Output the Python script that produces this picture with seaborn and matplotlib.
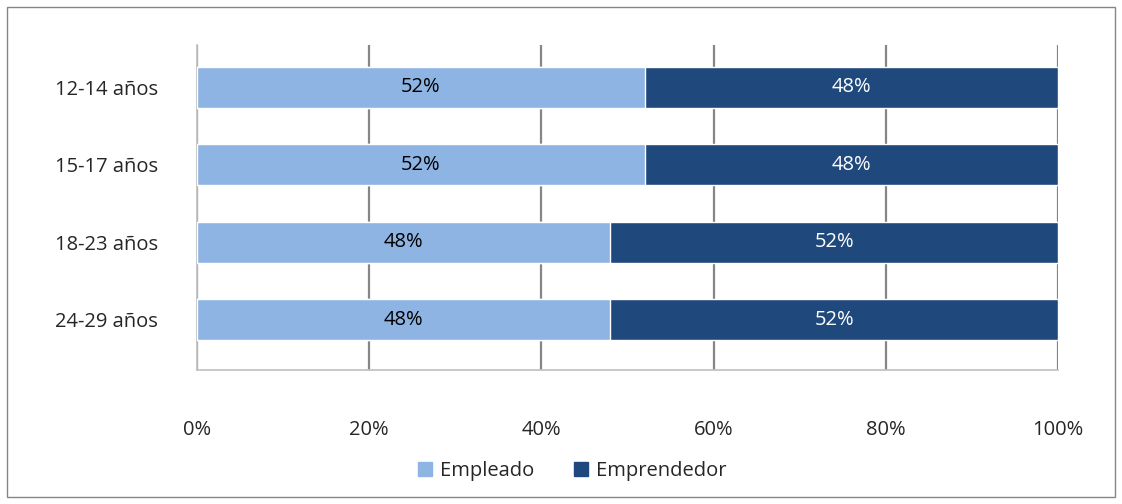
import seaborn as sns
import matplotlib.pyplot as plt
import matplotlib.patches as mpatches
import pandas as pd

# data
grupos = ['12-14 años', '15-17 años', '18-23 años', '24-29 años']
empleado = [52, 52, 48, 48]
emprendedor = [48, 48, 52, 52]

c_light = '#8EB4E3'
c_dark = '#1F497D'

df = pd.DataFrame({'grupo': grupos, 'Empleado': empleado, 'Emprendedor': emprendedor})
df['total'] = df['Empleado'] + df['Emprendedor']

sns.set_style('white')
plt.rcParams['font.family'] = ['Open Sans', 'DejaVu Sans']
fs = 14.5

fig = plt.figure(figsize=(11.22, 5.04), dpi=100)
ax = fig.add_axes([0.1756, 0.266, 0.7675, 0.645])

# stacked: full bar in dark, then the empleado part in light on top
sns.barplot(data=df, y='grupo', x='total', color=c_dark, orient='h', width=0.53,
            ax=ax, zorder=3, saturation=1)
sns.barplot(data=df, y='grupo', x='Empleado', color=c_light, orient='h', width=0.53,
            ax=ax, zorder=4, saturation=1)

for i, (a, b) in enumerate(zip(empleado, emprendedor)):
    ax.text(a / 2, i, f'{a}%', ha='center', va='center', fontsize=fs, color='black', zorder=5)
    ax.text(a + b / 2, i, f'{b}%', ha='center', va='center', fontsize=fs, color='white', zorder=5)

ax.set_xlim(0, 100)
ax.set_ylim(3.65, -0.55)
ax.set_xticks(range(0, 101, 20))
ax.set_xticklabels([f'{t}%' for t in range(0, 101, 20)])
ax.xaxis.grid(True, color='#868686', linewidth=1.6, zorder=0)
ax.yaxis.grid(False)
ax.set_xlabel('')
ax.set_ylabel('')
ax.tick_params(axis='x', labelsize=fs, length=0, pad=36)
ax.tick_params(axis='y', labelsize=fs, length=0, pad=28)

for side in ['top', 'right']:
    ax.spines[side].set_visible(False)
ax.spines['left'].set_color('#bfbfbf')
ax.spines['bottom'].set_color('#bfbfbf')
ax.spines['left'].set_linewidth(1.2)
ax.spines['bottom'].set_linewidth(1.2)

handles = [mpatches.Patch(color=c_light, label='Empleado'),
           mpatches.Patch(color=c_dark, label='Emprendedor')]
fig.legend(handles=handles, loc='center', bbox_to_anchor=(0.51, 0.066), ncol=2,
           frameon=False, fontsize=fs, handlelength=0.7, handleheight=0.7,
           handletextpad=0.4, columnspacing=2.0)

# outer chart border
fig.patches.append(mpatches.Rectangle((0.006, 0.014), 0.988, 0.972, transform=fig.transFigure,
                                      fill=False, edgecolor='#868686', linewidth=1))

fig.savefig('out.png', dpi=100)
